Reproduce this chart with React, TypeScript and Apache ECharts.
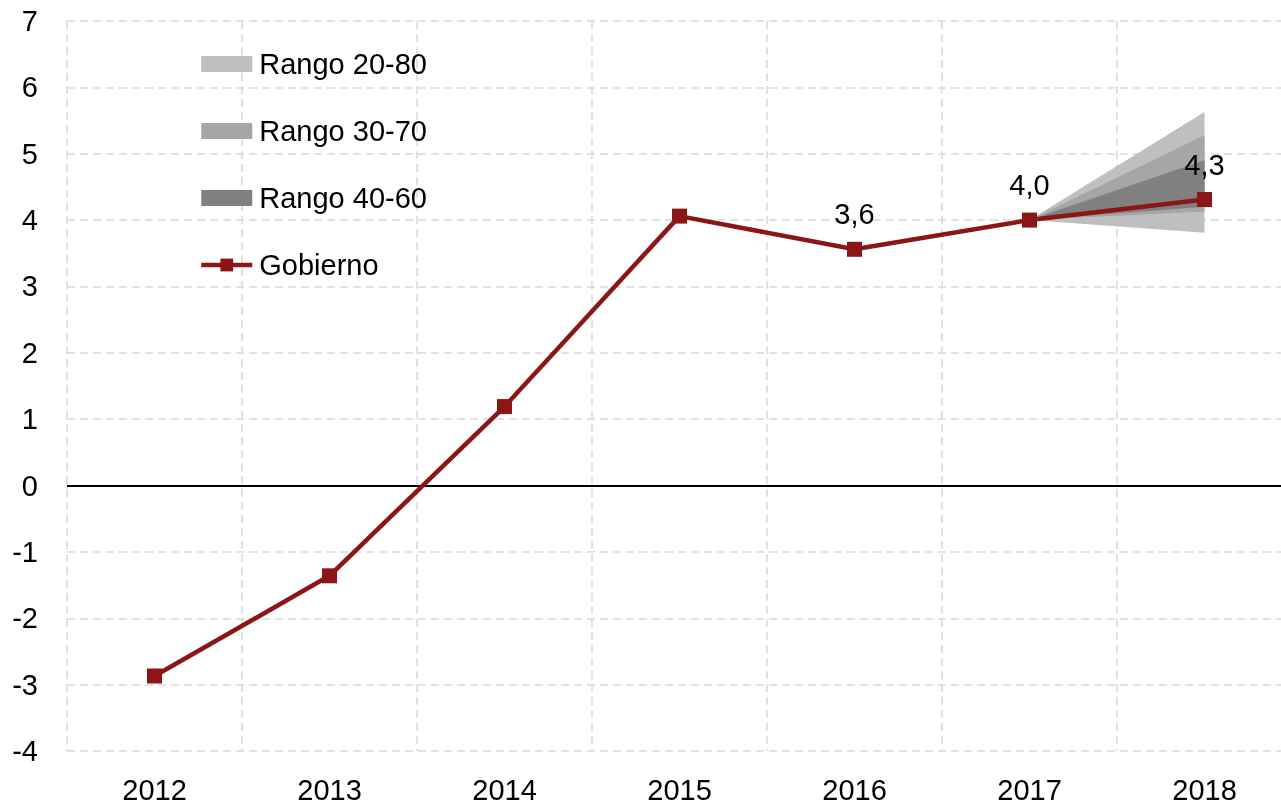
import React, { useEffect, useRef } from "react";
import * as echarts from "echarts";

const years = ["2012", "2013", "2014", "2015", "2016", "2017", "2018"];
const gobierno = [-2.87, -1.36, 1.19, 4.06, 3.56, 4.0, 4.31];
const labelledIdx = [4, 5, 6];
// fan bands (only 2017 -> 2018)
const low2080 = [null, null, null, null, null, 4.0, 3.81];
const high2080 = [null, null, null, null, null, 4.0, 5.63];
const low3070 = [null, null, null, null, null, 4.0, 4.13];
const high3070 = [null, null, null, null, null, 4.0, 5.28];
const low4060 = [null, null, null, null, null, 4.0, 4.2];
const high4060 = [null, null, null, null, null, 4.0, 4.9];
const yTicks = { min: -4, max: 7, interval: 1 };

const FONT = "Liberation Sans";
const bandColors = ["#BFBFBF", "#A6A6A6", "#808080"];
const lineColor = "#8C1515";

function bandSeries(name: string, stack: string, low: (number | null)[], high: (number | null)[], color: string) {
  const base = low.map((v) => (v == null ? "-" : v));
  const width = low.map((v, i) => (v == null || high[i] == null ? "-" : +((high[i] as number) - v).toFixed(3)));
  return [
    {
      name: "_base_" + stack,
      type: "line",
      stack,
      data: base,
      symbol: "none",
      silent: true,
      lineStyle: { opacity: 0, width: 0 },
      itemStyle: { color },
      z: 1,
    },
    {
      name,
      type: "line",
      stack,
      data: width,
      symbol: "none",
      silent: true,
      lineStyle: { opacity: 0, width: 0 },
      itemStyle: { color },
      areaStyle: { color, opacity: 1 },
      z: 1,
    },
  ];
}

export default function App() {
  const ref = useRef<HTMLDivElement>(null);
  useEffect(() => {
    const chart = echarts.init(ref.current!, null, { renderer: "svg" });
    const fmt = (v: number) => v.toFixed(1).replace(".", ",");
    chart.setOption({
      animation: false,
      textStyle: { fontFamily: FONT },
      grid: { left: 67, top: 21, right: 0, bottom: 55, containLabel: false },
      legend: {
        orient: "vertical",
        left: 199,
        top: 49,
        padding: 0,
        itemWidth: 51,
        itemHeight: 16,
        itemGap: 37,
        selectedMode: false,
        textStyle: { fontFamily: FONT, fontSize: 29, color: "#000", lineHeight: 30, padding: [0, 0, 0, 2] },
        data: [
          { name: "Rango 20-80", icon: "rect", itemStyle: { color: bandColors[0] } },
          { name: "Rango 30-70", icon: "rect", itemStyle: { color: bandColors[1] } },
          { name: "Rango 40-60", icon: "rect", itemStyle: { color: bandColors[2] } },
          { name: "Gobierno", lineStyle: { width: 4.5, color: lineColor } },
        ],
      },
      xAxis: {
        type: "category",
        data: years,
        boundaryGap: true,
        axisLine: { show: false },
        axisTick: { show: false },
        axisLabel: { fontFamily: FONT, fontSize: 29, color: "#000", margin: 24, interval: 0 },
        splitLine: { show: true, interval: 0, lineStyle: { color: "#D9D9D9", type: [8, 5], width: 1.5 } },
      },
      yAxis: {
        type: "value",
        min: yTicks.min,
        max: yTicks.max,
        interval: yTicks.interval,
        axisLine: { show: false },
        axisTick: { show: false },
        axisLabel: { fontFamily: FONT, fontSize: 29, color: "#000", margin: 29 },
        splitLine: { show: true, lineStyle: { color: "#D9D9D9", type: [8, 5], width: 1.5 } },
      },
      series: [
        ...bandSeries("Rango 20-80", "b1", low2080, high2080, bandColors[0]),
        ...bandSeries("Rango 30-70", "b2", low3070, high3070, bandColors[1]),
        ...bandSeries("Rango 40-60", "b3", low4060, high4060, bandColors[2]),
        {
          name: "Gobierno",
          type: "line",
          z: 5,
          symbol: "rect",
          symbolSize: 15,
          lineStyle: { color: lineColor, width: 4.5 },
          itemStyle: { color: lineColor },
          data: gobierno.map((v, i) =>
            labelledIdx.includes(i)
              ? {
                  value: v,
                  label: {
                    show: true,
                    position: "top",
                    distance: 13,
                    formatter: () => fmt(v),
                    fontFamily: FONT,
                    fontSize: 29,
                    color: "#000",
                  },
                }
              : v
          ),
          markLine: {
            silent: true,
            symbol: "none",
            label: { show: false },
            lineStyle: { color: "#000", type: "solid", width: 2 },
            data: [{ yAxis: 0 }],
            z: 2,
          },
        },
      ],
    });
    return () => chart.dispose();
  }, []);
  return (
    <div style={{ position: "fixed", left: 0, top: 0, width: 1281, height: 806, overflow: "hidden" }}>
      <div ref={ref} style={{ width: 1292, height: 806 }} />
    </div>
  );
}
